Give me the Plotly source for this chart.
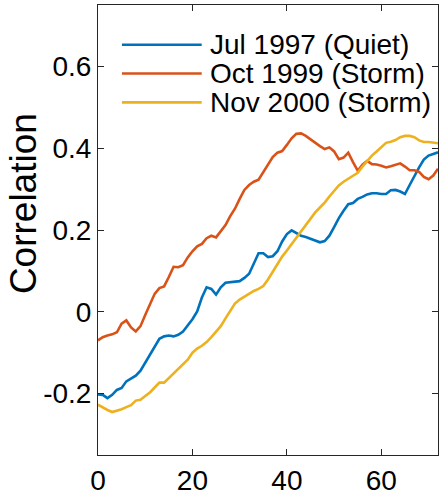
import plotly.graph_objects as go

# ---- data ----
lag = list(range(0, 73))

jul_1997 = [-0.202, -0.203, -0.211, -0.203, -0.191, -0.186, -0.170, -0.163, -0.156, -0.144,
            -0.124, -0.104, -0.084, -0.066, -0.060, -0.058, -0.060, -0.056, -0.048, -0.033,
            -0.018, 0.001, 0.035, 0.060, 0.056, 0.042, 0.060, 0.071, 0.072, 0.073,
            0.075, 0.083, 0.093, 0.118, 0.143, 0.143, 0.134, 0.136, 0.148, 0.172,
            0.190, 0.199, 0.192, 0.186, 0.183, 0.179, 0.174, 0.170, 0.173, 0.186,
            0.207, 0.229, 0.247, 0.263, 0.266, 0.276, 0.281, 0.287, 0.290, 0.290,
            0.288, 0.288, 0.297, 0.298, 0.294, 0.288, 0.310, 0.333, 0.353, 0.372,
            0.382, 0.386, 0.390]

oct_1999 = [-0.070, -0.062, -0.058, -0.055, -0.050, -0.029, -0.021, -0.038, -0.048, -0.035,
            -0.008, 0.018, 0.044, 0.058, 0.062, 0.085, 0.110, 0.109, 0.114, 0.133,
            0.148, 0.160, 0.166, 0.180, 0.186, 0.182, 0.196, 0.212, 0.234, 0.252,
            0.276, 0.298, 0.310, 0.318, 0.323, 0.342, 0.362, 0.378, 0.389, 0.393,
            0.408, 0.424, 0.435, 0.436, 0.430, 0.421, 0.413, 0.405, 0.398, 0.402,
            0.392, 0.373, 0.377, 0.389, 0.366, 0.345, 0.360, 0.369, 0.361, 0.360,
            0.357, 0.353, 0.356, 0.360, 0.363, 0.355, 0.346, 0.346, 0.342, 0.330,
            0.324, 0.333, 0.350]

nov_2000 = [-0.227, -0.234, -0.240, -0.245, -0.242, -0.238, -0.233, -0.228, -0.217, -0.215,
            -0.206, -0.197, -0.185, -0.173, -0.173, -0.162, -0.149, -0.138, -0.129, -0.117,
            -0.100, -0.090, -0.083, -0.074, -0.062, -0.048, -0.035, -0.016, 0.002, 0.020,
            0.030, 0.037, 0.045, 0.051, 0.056, 0.063, 0.079, 0.097, 0.118, 0.135,
            0.150, 0.166, 0.180, 0.197, 0.212, 0.228, 0.243, 0.255, 0.267, 0.282,
            0.296, 0.309, 0.318, 0.325, 0.331, 0.340, 0.355, 0.370, 0.382, 0.392,
            0.402, 0.413, 0.416, 0.420, 0.427, 0.430, 0.430, 0.427, 0.419, 0.415,
            0.415, 0.414, 0.412]

series_names = ["Jul 1997 (Quiet)", "Oct 1999 (Storm)", "Nov 2000 (Storm)"]
series_values = [jul_1997, oct_1999, nov_2000]
colors = ["#0072BD", "#D95319", "#EDB120"]

x_tickvals = [0, 20, 40, 60]
x_ticktext = ["0", "20", "40", "60"]
y_tickvals = [-0.2, 0, 0.2, 0.4, 0.6]
y_ticktext = ["-0.2", "0", "0.2", "0.4", "0.6"]
y_label = "Correlation"

FONT = "Liberation Sans, Arial, Helvetica, sans-serif"
AXC = "#262626"

fig = go.Figure()
for name, vals, col in zip(series_names, series_values, colors):
    fig.add_trace(go.Scatter(x=lag, y=vals, mode="lines", name=name,
                             line=dict(color=col, width=2.6), showlegend=False))

# manual legend (MATLAB style, long line samples)
leg_rows = [0.9117, 0.8477, 0.7837]
for name, col, yp in zip(series_names, colors, leg_rows):
    fig.add_shape(type="line", xref="paper", yref="paper", x0=0.0704, x1=0.305,
                  y0=yp, y1=yp, line=dict(color=col, width=2.6))
    fig.add_annotation(xref="paper", yref="paper", x=0.3226, y=yp, text=name,
                       showarrow=False, xanchor="left", yanchor="middle",
                       font=dict(family=FONT, size=28, color="black"))

# y-axis label
fig.add_annotation(xref="paper", yref="paper", x=-0.217, y=0.558, text=y_label,
                   textangle=-90, showarrow=False, xanchor="center", yanchor="middle",
                   font=dict(family=FONT, size=37, color="black"))

axis_common = dict(showline=True, linecolor=AXC, linewidth=1, mirror="ticks",
                   ticks="inside", ticklen=6, tickcolor=AXC, tickwidth=1,
                   showgrid=False, zeroline=False,
                   tickfont=dict(family=FONT, size=28, color="black"))

fig.update_xaxes(range=[0, 72], tickvals=x_tickvals, ticktext=x_ticktext, **axis_common)
fig.update_yaxes(range=[-0.35, 0.75], tickvals=y_tickvals, ticktext=y_ticktext, **axis_common)

fig.update_layout(width=440, height=497, margin=dict(l=98, r=1, t=5, b=39),
                  plot_bgcolor="white", paper_bgcolor="white",
                  font=dict(family=FONT))

fig.write_html("out.html")
